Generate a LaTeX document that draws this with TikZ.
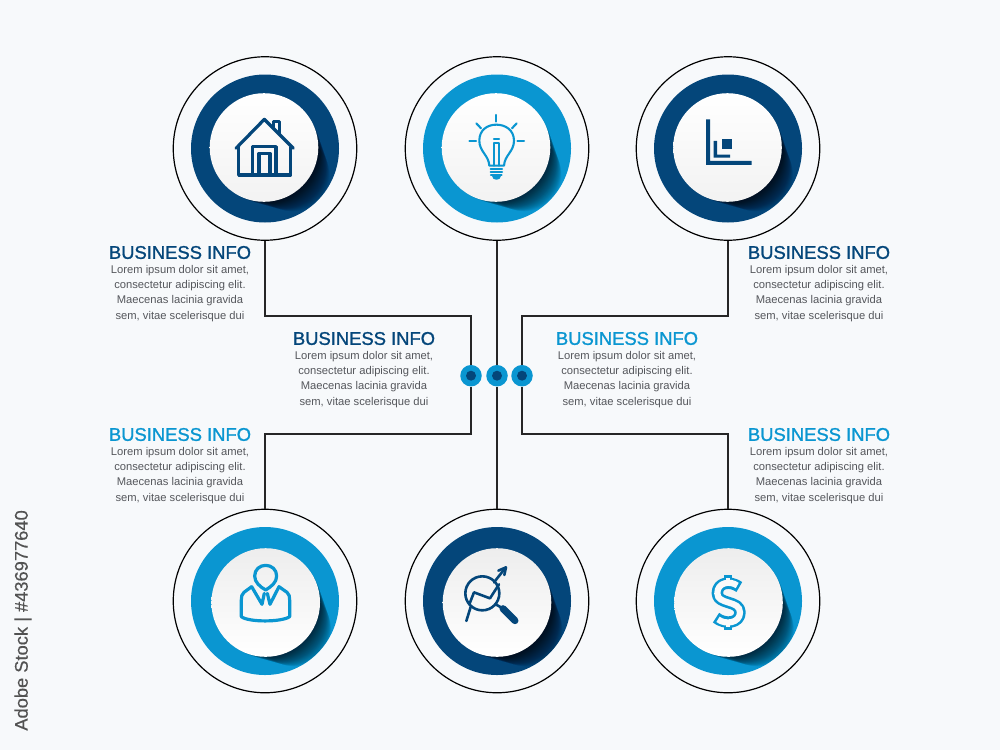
\documentclass[tikz,border=0pt]{standalone}
\usepackage{fontspec}
\setmainfont{Liberation Sans}
\newfontfamily\headfont[FakeBold=1.2]{Liberation Sans}
\newfontfamily\labelfont[FakeBold=0.3]{Liberation Sans}
\definecolor{navy}{HTML}{04467A}
\definecolor{sky}{HTML}{0A96D1}
\definecolor{paper}{HTML}{F7F9FB}
\definecolor{bodygrey}{HTML}{55575C}
\tikzset{
  x=1pt,y=-1pt,
  outerring/.style={circle,draw=black,line width=1.2pt,minimum size=183.5pt,inner sep=0pt},
  dotnode/.style={circle,fill=sky,minimum size=21.5pt,inner sep=0pt},
  conn/.style={draw=black!85,line width=1.3pt},
  headtext/.style={font=\headfont\fontsize{18.4}{20}\selectfont,inner sep=0pt,anchor=center},
  bodytext/.style={font=\fontsize{11.2}{15.45}\selectfont,text=bodygrey,align=center,inner sep=0pt,anchor=center},
  iconline/.style={line width=3.2pt,line join=round,line cap=round},
}
% name, ring cx, cy, inner cx, cy, colour, top shade, bottom shade
\newcommand{\infodisc}[8]{%
  \node[outerring] (#1) at (#2,#3) {};
  \fill[#6] (#2,#3) circle[radius=74pt];
  \begin{scope}
    \clip (#2,#3) circle[radius=74pt];
    \foreach \k in {1,...,40}{
      \fill[black,opacity=0.022] (#4+0.72*\k,#5+0.68*\k) circle[radius=55pt-0.46pt*\k];
    }
  \end{scope}
  \shade[top color=#7,bottom color=#8] (#4,#5) circle[radius=54.3pt];
}
\newcommand{\infotext}[5]{%
  \node[headtext,text=#4] (#1h) at (#2,#3) {BUSINESS INFO};
  \node[bodytext] (#1b) at (#2,#3+#5) {Lorem ipsum dolor sit amet,\\consectetur adipiscing elit.\\Maecenas lacinia gravida\\sem, vitae scelerisque dui};
}
\begin{document}
\begin{tikzpicture}
\useasboundingbox (0,0) rectangle (1000,750);
\fill[paper] (0,0) rectangle (1000,750);

% discs
\infodisc{tl}{265}{148.5}{264}{147.5}{navy}{white}{black!5}
\infodisc{tm}{497}{148.5}{496}{147.5}{sky}{white}{black!5}
\infodisc{tr}{728}{148.5}{727.5}{147.5}{navy}{white}{black!5}
\infodisc{bl}{265}{601}{265.7}{602.5}{sky}{black!7}{white}
\infodisc{bm}{497}{601}{497}{602.5}{navy}{black!7}{white}
\infodisc{br}{728}{601}{728.5}{602.5}{sky}{black!7}{white}

% junction dots
\foreach \n/\x in {dl/471,dm/497,dr/522}{
  \node[dotnode] (\n) at (\x,375.7) {};
  \fill[navy] (\n) circle[radius=5pt];
}
\coordinate (jtl) at (471,316);
\coordinate (jtr) at (522,316);
\coordinate (jbl) at (471,434);
\coordinate (jbr) at (522,434);
\path[conn] (tl.south) |- (jtl) -- (dl);
\path[conn] (tm.south) -- (dm);
\path[conn] (tr.south) |- (jtr) -- (dr);
\path[conn] (bl.north) |- (jbl) -- (dl);
\path[conn] (bm.north) -- (dm);
\path[conn] (br.north) |- (jbr) -- (dr);

% texts
\infotext{a}{180}{252.5}{navy}{40.8}
\infotext{b}{819}{252.5}{navy}{40.8}
\infotext{c}{364}{338.5}{navy}{40.8}
\infotext{d}{627}{338.5}{sky}{40.8}
\infotext{e}{180}{434.5}{sky}{40.8}
\infotext{f}{819}{434.5}{sky}{40.8}

% house icon
\begin{scope}[shift={(160,40)},scale=0.3333,draw=navy,iconline]
  \draw (228,325) -- (313,238) -- (400,325);
  \draw (236,322) -- (236,405) -- (392,405) -- (392,322);
  \draw (340,262) -- (340,245) -- (358,245) -- (358,283);
  \draw (278,405) -- (278,320) -- (348,320) -- (348,405);
  \draw (297,405) -- (297,340) -- (330,340) -- (330,405);
\end{scope}

% bulb icon
\begin{scope}[shift={(400,50)},scale=0.3333,draw=sky,line width=2.1pt,line cap=round,line join=round]
  \draw (289,195) -- (289,215);
  \draw (229,220) -- (243,235);
  \draw (350,220) -- (336,235);
  \draw (208,273) -- (228,273);
  \draw (352,273) -- (372,273);
  \draw (268,347) .. controls (266,315) and (238,305) .. (238,272)
        .. controls (238,240) and (262,224) .. (289,224)
        .. controls (316,224) and (342,240) .. (342,272)
        .. controls (342,305) and (314,315) .. (312,347) -- cycle;
  \draw (283,347) -- (283,280) -- (296,280) -- (296,347);
  \draw (282,268) -- (297,268);
  \draw (272,357) -- (306,357);
  \draw (272,366) -- (306,366);
  \draw (273,375) -- (305,375);
  \fill[sky] (276,378) -- (302,378) .. controls (302,393) and (276,393) .. (276,378) -- cycle;
\end{scope}

% chart icon
\begin{scope}[shift={(630,50)},scale=0.3333]
  \fill[navy] (228,208) -- (240,208) -- (240,333) -- (365,333) -- (365,345) -- (228,345) -- cycle;
  \fill[navy] (251,273) -- (261,273) -- (261,314) -- (300,314) -- (300,323) -- (251,323) -- cycle;
  \fill[navy] (275,266) rectangle (307,298);
\end{scope}

% person icon
\begin{scope}[shift={(170,505)},scale=0.3333,draw=sky,iconline]
  \draw (287,255) .. controls (270,245) and (254,232) .. (254,213)
        .. controls (254,193) and (270,181) .. (287,181)
        .. controls (304,181) and (320,193) .. (320,213)
        .. controls (320,232) and (304,245) .. (287,255) -- cycle;
  \draw (245,245) -- (222,262) .. controls (215,268) and (214,275) .. (214,285)
        -- (214,335) .. controls (235,352) and (335,352) .. (359,335) -- (359,285)
        .. controls (359,275) and (358,268) .. (351,262) -- (327,245)
        -- (300,298) -- (292,265);
  \draw (245,245) -- (276,298) -- (283,265);
\end{scope}

% analysis icon
\begin{scope}[shift={(400,505)},scale=0.3333,draw=navy,line width=2.6pt,line cap=round,line join=round]
  \draw (247,265) circle[radius=51];
  \draw (199,348) -- (212,306);
  \draw (282,232) -- (316,189);
  \draw (295,197) -- (318,187) -- (313,210);
  \draw (208,298) -- (222,262) -- (270,280) -- (297,238);
  \draw (287,298) -- (303,307);
  \draw[line width=7pt] (309,311) -- (345,347);
\end{scope}

% dollar icon
\begin{scope}[shift={(630,505)},scale=0.3333]
  \def\dollarcurve{(328,246) .. controls (300,226) and (262,232) .. (262,265)
     .. controls (262,300) and (330,285) .. (330,322)
     .. controls (330,355) and (285,360) .. (258,338)}
  \draw[sky,line width=8.6pt] (294,211) -- (294,240);
  \draw[sky,line width=8.6pt] (294,345) -- (294,374);
  \draw[sky,line width=11.5pt,line join=round] \dollarcurve;
  \draw[black!2,line width=6.2pt,shorten <=2.6pt,shorten >=2.6pt] \dollarcurve;
  \draw[black!2,line width=3.8pt] (294,219) -- (294,240);
  \draw[black!2,line width=3.8pt] (294,345) -- (294,366);
\end{scope}

% stock label
\node[rotate=90,anchor=east,inner sep=0pt,text=black!68,font=\labelfont\fontsize{18.3}{20}\selectfont] (stock) at (23,510) {Adobe Stock | \#436977640};
\end{tikzpicture}
\end{document}
